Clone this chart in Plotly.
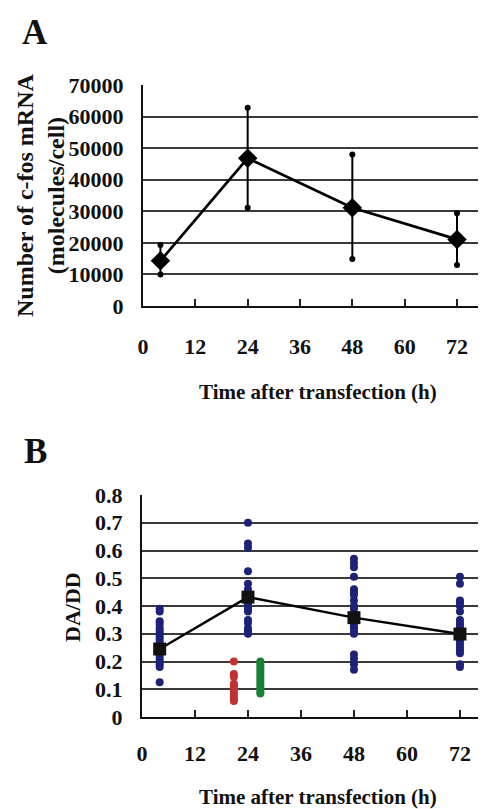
import plotly.graph_objects as go

# ---------------- Panel A data ----------------
a_time = [4, 24, 48, 72]
a_mean = [14300, 46800, 31100, 21100]
a_upper = [19300, 62800, 48000, 29400]
a_lower = [10000, 31100, 14900, 13000]

# ---------------- Panel B data ----------------
b_time = [4, 24, 48, 72]
b_mean = [0.245, 0.432, 0.358, 0.299]
b_blue_4 = [0.39, 0.38, 0.345, 0.335, 0.32, 0.31, 0.30, 0.29, 0.28, 0.27, 0.26,
            0.25, 0.24, 0.23, 0.22, 0.21, 0.20, 0.19, 0.18, 0.125]
b_blue_24 = [0.70, 0.625, 0.61, 0.525, 0.48, 0.46, 0.44, 0.42, 0.41, 0.40, 0.39,
             0.38, 0.35, 0.34, 0.32, 0.31, 0.30]
b_blue_48 = [0.57, 0.555, 0.54, 0.505, 0.46, 0.45, 0.44, 0.42, 0.40, 0.39, 0.37,
             0.35, 0.33, 0.32, 0.31, 0.30, 0.225, 0.21, 0.19, 0.17]
b_blue_72 = [0.505, 0.48, 0.42, 0.41, 0.40, 0.38, 0.35, 0.34, 0.33, 0.32, 0.31,
             0.30, 0.29, 0.28, 0.27, 0.26, 0.25, 0.24, 0.23, 0.19, 0.18]
b_red_time = 20.8
b_red = [0.20, 0.155, 0.145, 0.12, 0.115, 0.105, 0.095, 0.085, 0.075, 0.065, 0.058]
b_green_time = 26.8
b_green = [0.20, 0.19, 0.18, 0.17, 0.16, 0.15, 0.14, 0.13, 0.12, 0.11, 0.10, 0.09, 0.085]

x_ticks = [0, 12, 24, 36, 48, 60, 72]
a_yticks = [0, 10000, 20000, 30000, 40000, 50000, 60000, 70000]
b_yticks = [0, 0.1, 0.2, 0.3, 0.4, 0.5, 0.6, 0.7, 0.8]

FONT = "Liberation Serif"
OFF = 8                      # default page body margin
W, H = 486 - OFF, 809 - OFF
NAVY = "#1c2278"
RED = "#c0332f"
GREEN = "#1a8038"

fig = go.Figure()

# Panel A
fig.add_trace(go.Scatter(
    x=a_time, y=a_mean, mode="lines+markers",
    line=dict(color="black", width=2.7),
    marker=dict(symbol="diamond", size=15, color="black"),
    error_y=dict(type="data", symmetric=False,
                 array=[u - m for u, m in zip(a_upper, a_mean)],
                 arrayminus=[m - l for m, l in zip(a_mean, a_lower)],
                 color="black", thickness=2, width=0),
    xaxis="x", yaxis="y", showlegend=False))
fig.add_trace(go.Scatter(
    x=a_time + a_time, y=a_upper + a_lower, mode="markers",
    marker=dict(symbol="circle", size=6, color="black"),
    xaxis="x", yaxis="y", showlegend=False))

# Panel B
for t, vals in zip(b_time, [b_blue_4, b_blue_24, b_blue_48, b_blue_72]):
    fig.add_trace(go.Scatter(
        x=[t] * len(vals), y=vals, mode="markers",
        marker=dict(symbol="circle", size=8, color=NAVY),
        xaxis="x2", yaxis="y2", showlegend=False))
fig.add_trace(go.Scatter(
    x=[b_red_time] * len(b_red), y=b_red, mode="markers",
    marker=dict(symbol="circle", size=8, color=RED),
    xaxis="x2", yaxis="y2", showlegend=False))
fig.add_trace(go.Scatter(
    x=[b_green_time] * len(b_green), y=b_green, mode="markers",
    marker=dict(symbol="circle", size=8, color=GREEN),
    xaxis="x2", yaxis="y2", showlegend=False))
fig.add_trace(go.Scatter(
    x=b_time, y=b_mean, mode="lines+markers",
    line=dict(color="black", width=2.4),
    marker=dict(symbol="square", size=13, color="#111111"),
    xaxis="x2", yaxis="y2", showlegend=False))

def px_x(p):
    return (p - OFF) / W

def px_y(p):
    return 1 - (p - OFF) / H

tickfont = dict(family=FONT, size=22, color="#111", weight="bold")

xa_common = dict(
    tickmode="array", tickvals=x_ticks, ticktext=[str(v) for v in x_ticks],
    ticks="inside", ticklen=7, tickwidth=1.5, tickcolor="#222",
    showline=True, linecolor="#111", linewidth=2.2,
    showgrid=False, zeroline=False, tickfont=tickfont, automargin=False,
)
ya_common = dict(
    ticks="", showline=True, linecolor="#111", linewidth=2.2,
    showgrid=True, gridcolor="#3a3a3a", gridwidth=1.5, zeroline=False,
    tickfont=tickfont, ticklabelstandoff=13, automargin=False,
)

fig.update_layout(
    width=W, height=H,
    margin=dict(l=0, r=0, t=0, b=0),
    paper_bgcolor="white", plot_bgcolor="white",
    xaxis=dict(domain=[px_x(143), 1.0], range=[0, 78.65], anchor="y",
               ticklabelstandoff=19, **xa_common),
    yaxis=dict(domain=[px_y(306), px_y(85)], range=[0, 70000], anchor="x",
               tickvals=a_yticks, ticktext=[str(v) for v in a_yticks], **ya_common),
    xaxis2=dict(domain=[px_x(142), 1.0], range=[0, 77.9], anchor="y2",
                ticklabelstandoff=15, **xa_common),
    yaxis2=dict(domain=[px_y(717), px_y(495)], range=[0, 0.8], anchor="x2",
                tickvals=b_yticks, ticktext=[("0" if v == 0 else f"{v:.1f}") for v in b_yticks],
                **ya_common),
)

ann_font = dict(family=FONT, color="#111", weight="bold")
annotations = [
    dict(text="A", x=px_x(35), y=px_y(33), font=dict(size=35, **ann_font)),
    dict(text="B", x=px_x(35), y=px_y(451), font=dict(size=35, **ann_font)),
    dict(text="Number of c-fos mRNA<br>(molecules/cell)", x=px_x(40), y=px_y(195),
         textangle=-90, font=dict(size=24, **ann_font)),
    dict(text="Time after transfection (h)", x=px_x(318), y=px_y(392),
         font=dict(size=21, **ann_font)),
    dict(text="DA/DD", x=px_x(72), y=px_y(607), textangle=-90,
         font=dict(size=22, **ann_font)),
    dict(text="Time after transfection (h)", x=px_x(318), y=px_y(797),
         font=dict(size=21, **ann_font)),
]
for a in annotations:
    a.update(xref="paper", yref="paper", showarrow=False, xanchor="center", yanchor="middle")
fig.update_layout(annotations=annotations)

fig.write_html("out.html")
